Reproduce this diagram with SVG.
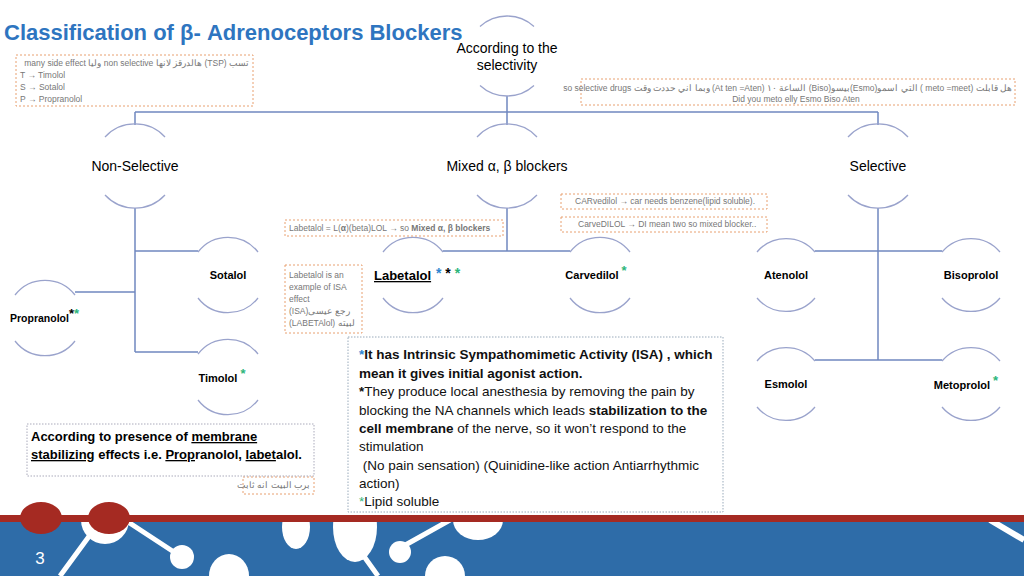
<svg xmlns="http://www.w3.org/2000/svg" width="1024" height="576" viewBox="0 0 1024 576">
<style>
text{font-family:"Liberation Sans","Noto Sans",sans-serif;}
.arc{fill:none;stroke:#9aa3cc;stroke-width:1.3}
.ln{fill:none;stroke:#7088c0;stroke-width:1.5}
.nl{font-size:11px;font-weight:bold;fill:#000;text-anchor:middle}
.l1{font-size:14px;fill:#000;text-anchor:middle}
.note{fill:#fff;stroke:#e8a070;stroke-width:1;stroke-dasharray:2 2}
.nt{font-size:8.5px;fill:#777}
.g{fill:#2cb57a}
.b{fill:#2e86d0}
.bt{font-size:13.5px;fill:#111}
</style>
<defs><clipPath id="fc"><rect x="0" y="519" width="1024" height="57"/></clipPath></defs>
<rect width="1024" height="576" fill="#fff"/>
<text x="4" y="40" font-size="22" font-weight="bold" fill="#2e75c0">Classification of β- Adrenoceptors Blockers</text>

<g id="connectors">
<path class="ln" d="M507 96V112M135 112H878M135 112V125M507 112V125M878 112V125"/>
<path class="ln" d="M135 208V352M135 251H198M75 292H135M135 352H198"/>
<path class="ln" d="M507 208V251M443 251H570"/>
<path class="ln" d="M878 208V360M815 251H942M815 360H942"/>
</g>

<g id="root"><path class="arc" d="M480 26.5A40 40 0 0 1 534 26.5M480 85.5A40 40 0 0 0 534 85.5"/>
<text class="l1" x="507" y="53">According to the</text><text class="l1" x="507" y="70">selectivity</text></g>
<g id="nonsel"><path class="arc" d="M105 137A41 41 0 0 1 165 137M105 195A41 41 0 0 0 165 195"/><text class="l1" x="135" y="171">Non-Selective</text></g>
<g id="mixed"><path class="arc" d="M477 137A41 41 0 0 1 537 137M477 195A41 41 0 0 0 537 195"/><text class="l1" x="507" y="171">Mixed α, β blockers</text></g>
<g id="sel"><path class="arc" d="M848 137A41 41 0 0 1 908 137M848 195A41 41 0 0 0 908 195"/><text class="l1" x="878" y="171">Selective</text></g>

<g id="sotalol"><path class="arc" d="M198 252A38 38 0 0 1 258 252M198 298A38 38 0 0 0 258 298"/><text class="nl" x="228" y="279">Sotalol</text></g>
<g id="propranolol"><path class="arc" d="M15 295A38 38 0 0 1 75 295M15 341A38 38 0 0 0 75 341"/><text x="10" y="322" style="font-size:10.5px;font-weight:bold;fill:#000;text-anchor:start">Propranolol<tspan dy="-4" font-size="13">*</tspan><tspan class="g" font-size="13">*</tspan></text></g>
<g id="timolol"><path class="arc" d="M198 354A38 38 0 0 1 258 354M198 400A38 38 0 0 0 258 400"/><text class="nl" x="222" y="382">Timolol <tspan class="g" dy="-4" font-size="13">*</tspan></text></g>
<g id="labetalol"><path class="arc" d="M383 252A38 38 0 0 1 443 252M383 298A38 38 0 0 0 443 298"/><text x="374" y="280" font-size="13" font-weight="bold" text-decoration="underline">Labetalol</text><text x="436" y="278" font-size="14" font-weight="bold"><tspan class="b">*</tspan> * <tspan class="g">*</tspan></text></g>
<g id="carvedilol"><path class="arc" d="M570 252A38 38 0 0 1 630 252M570 298A38 38 0 0 0 630 298"/><text class="nl" x="596" y="279">Carvedilol <tspan class="g" dy="-4" font-size="13">*</tspan></text></g>
<g id="atenolol"><path class="arc" d="M757 252A38 38 0 0 1 815 252M757 298A38 38 0 0 0 815 298"/><text class="nl" x="786" y="279">Atenolol</text></g>
<g id="bisoprolol"><path class="arc" d="M942 252A38 38 0 0 1 1000 252M942 298A38 38 0 0 0 1000 298"/><text class="nl" x="971" y="279">Bisoprolol</text></g>
<g id="esmolol"><path class="arc" d="M757 361A38 38 0 0 1 815 361M757 407A38 38 0 0 0 815 407"/><text class="nl" x="786" y="388">Esmolol</text></g>
<g id="metoprolol"><path class="arc" d="M942 361A38 38 0 0 1 1000 361M942 407A38 38 0 0 0 1000 407"/><text class="nl" x="966" y="389">Metoprolol <tspan class="g" dy="-4" font-size="13">*</tspan></text></g>

<g id="note1"><rect class="note" x="16" y="55" width="237" height="51"/>
<text class="nt" x="249" y="66" direction="rtl">تسب (TSP) هالدرقز  لانها non selective وليا  many side effect</text>
<text class="nt" x="20" y="78">T → Timolol</text><text class="nt" x="20" y="90">S → Sotalol</text><text class="nt" x="20" y="102">P → Propranolol</text></g>
<g id="note2"><rect class="note" x="581" y="79" width="434" height="26"/>
<text class="nt" x="1012" y="91" direction="rtl">هل قابلت (meto =meet ) التي اسمو(Esmo)بيسو(Biso) الساعة ١٠ (At ten =Aten) وبما اني حددت وقت so selective drugs</text>
<text class="nt" x="796" y="102" text-anchor="middle">Did you meto elly Esmo Biso Aten</text></g>
<g id="note3"><rect class="note" x="285" y="220" width="218" height="16"/>
<text class="nt" x="289" y="231">Labetalol = L(<tspan font-weight="bold">α</tspan>)(beta)LOL → so <tspan font-weight="bold">Mixed α, β blockers</tspan></text></g>
<g id="note4"><rect class="note" x="561" y="194" width="206" height="15"/><text class="nt" x="575" y="204">CARvedilol → car needs benzene(lipid soluble).</text></g>
<g id="note5"><rect class="note" x="561" y="217" width="206" height="15"/><text class="nt" x="578" y="227">CarveDILOL → DI mean two so mixed blocker..</text></g>
<g id="note6"><rect class="note" x="285" y="265" width="77" height="68"/>
<text class="nt" x="289" y="278">Labetalol is an</text><text class="nt" x="289" y="290">example of ISA</text><text class="nt" x="289" y="302">effect</text><text class="nt" x="289" y="314">(ISA)رجع عيسى</text><text class="nt" x="289" y="326">(LABETAlol) لبيته</text></g>
<g id="note7"><rect class="note" x="243" y="477" width="71" height="17"/><text class="nt" x="310" y="488" direction="rtl">برب  البيت انه ثابت</text></g>

<g id="isa"><rect x="348" y="337" width="375" height="175" fill="#fff" stroke="#9ab" stroke-dasharray="1.5 1.5"/>
<text class="bt" x="359" y="359" font-weight="bold"><tspan class="b">*</tspan>It has Intrinsic Sympathomimetic Activity (ISA) , which</text>
<text class="bt" x="359" y="378" font-weight="bold">mean it gives initial agonist action.</text>
<text class="bt" x="359" y="396"><tspan font-weight="bold">*</tspan>They produce local anesthesia by removing the pain by</text>
<text class="bt" x="359" y="415">blocking the NA channels which leads <tspan font-weight="bold">stabilization to the</tspan></text>
<text class="bt" x="359" y="433"><tspan font-weight="bold">cell membrane</tspan> of the nerve, so it won’t respond to the</text>
<text class="bt" x="359" y="451">stimulation</text>
<text class="bt" x="359" y="470" xml:space="preserve"> (No pain sensation) (Quinidine-like action Antiarrhythmic</text>
<text class="bt" x="359" y="488">action)</text>
<text class="bt" x="359" y="506"><tspan class="g">*</tspan>Lipid soluble</text></g>

<g id="membrane"><rect x="27" y="424" width="287" height="52" fill="#fff" stroke="#aab" stroke-dasharray="1.5 1.5"/>
<text x="31" y="441" font-size="13" font-weight="bold">According to presence of <tspan text-decoration="underline">membrane</tspan></text>
<text x="31" y="459" font-size="13" font-weight="bold"><tspan text-decoration="underline">stabilizing</tspan> effects i.e. <tspan text-decoration="underline">Prop</tspan>ranolol, <tspan text-decoration="underline">labet</tspan>alol.</text></g>

<g id="footer">
<rect x="0" y="519" width="1024" height="57" fill="#2e6ca8"/>
<g fill="#fff" stroke="#fff" clip-path="url(#fc)">
<circle cx="105" cy="520" r="24" stroke="none"/>
<path d="M90 535L60 576M125 520L180 556" stroke-width="5"/>
<circle cx="182" cy="557" r="12" stroke="none"/>
<ellipse cx="229" cy="576" rx="20" ry="22" stroke="none"/>
<ellipse cx="296" cy="527" rx="14" ry="22" stroke="none"/>
<ellipse cx="355" cy="527" rx="22" ry="35" stroke="none"/>
<path d="M363 555L378 576M400 548L450 520" stroke-width="5"/>
<circle cx="400" cy="552" r="11" stroke="none"/>
<ellipse cx="445" cy="576" rx="20" ry="20" stroke="none"/>
<ellipse cx="478" cy="520" rx="25" ry="20" stroke="none"/>
<path d="M990 520L1024 540" stroke-width="6"/>
</g>
<rect x="0" y="515" width="1024" height="7" fill="#a52a22"/>
<ellipse cx="41" cy="518" rx="21" ry="16" fill="#a52a22"/>
<ellipse cx="109" cy="518" rx="21" ry="16" fill="#a52a22"/>
<text x="40" y="564" font-size="17" fill="#fff" text-anchor="middle">3</text>
</g>
</svg>
